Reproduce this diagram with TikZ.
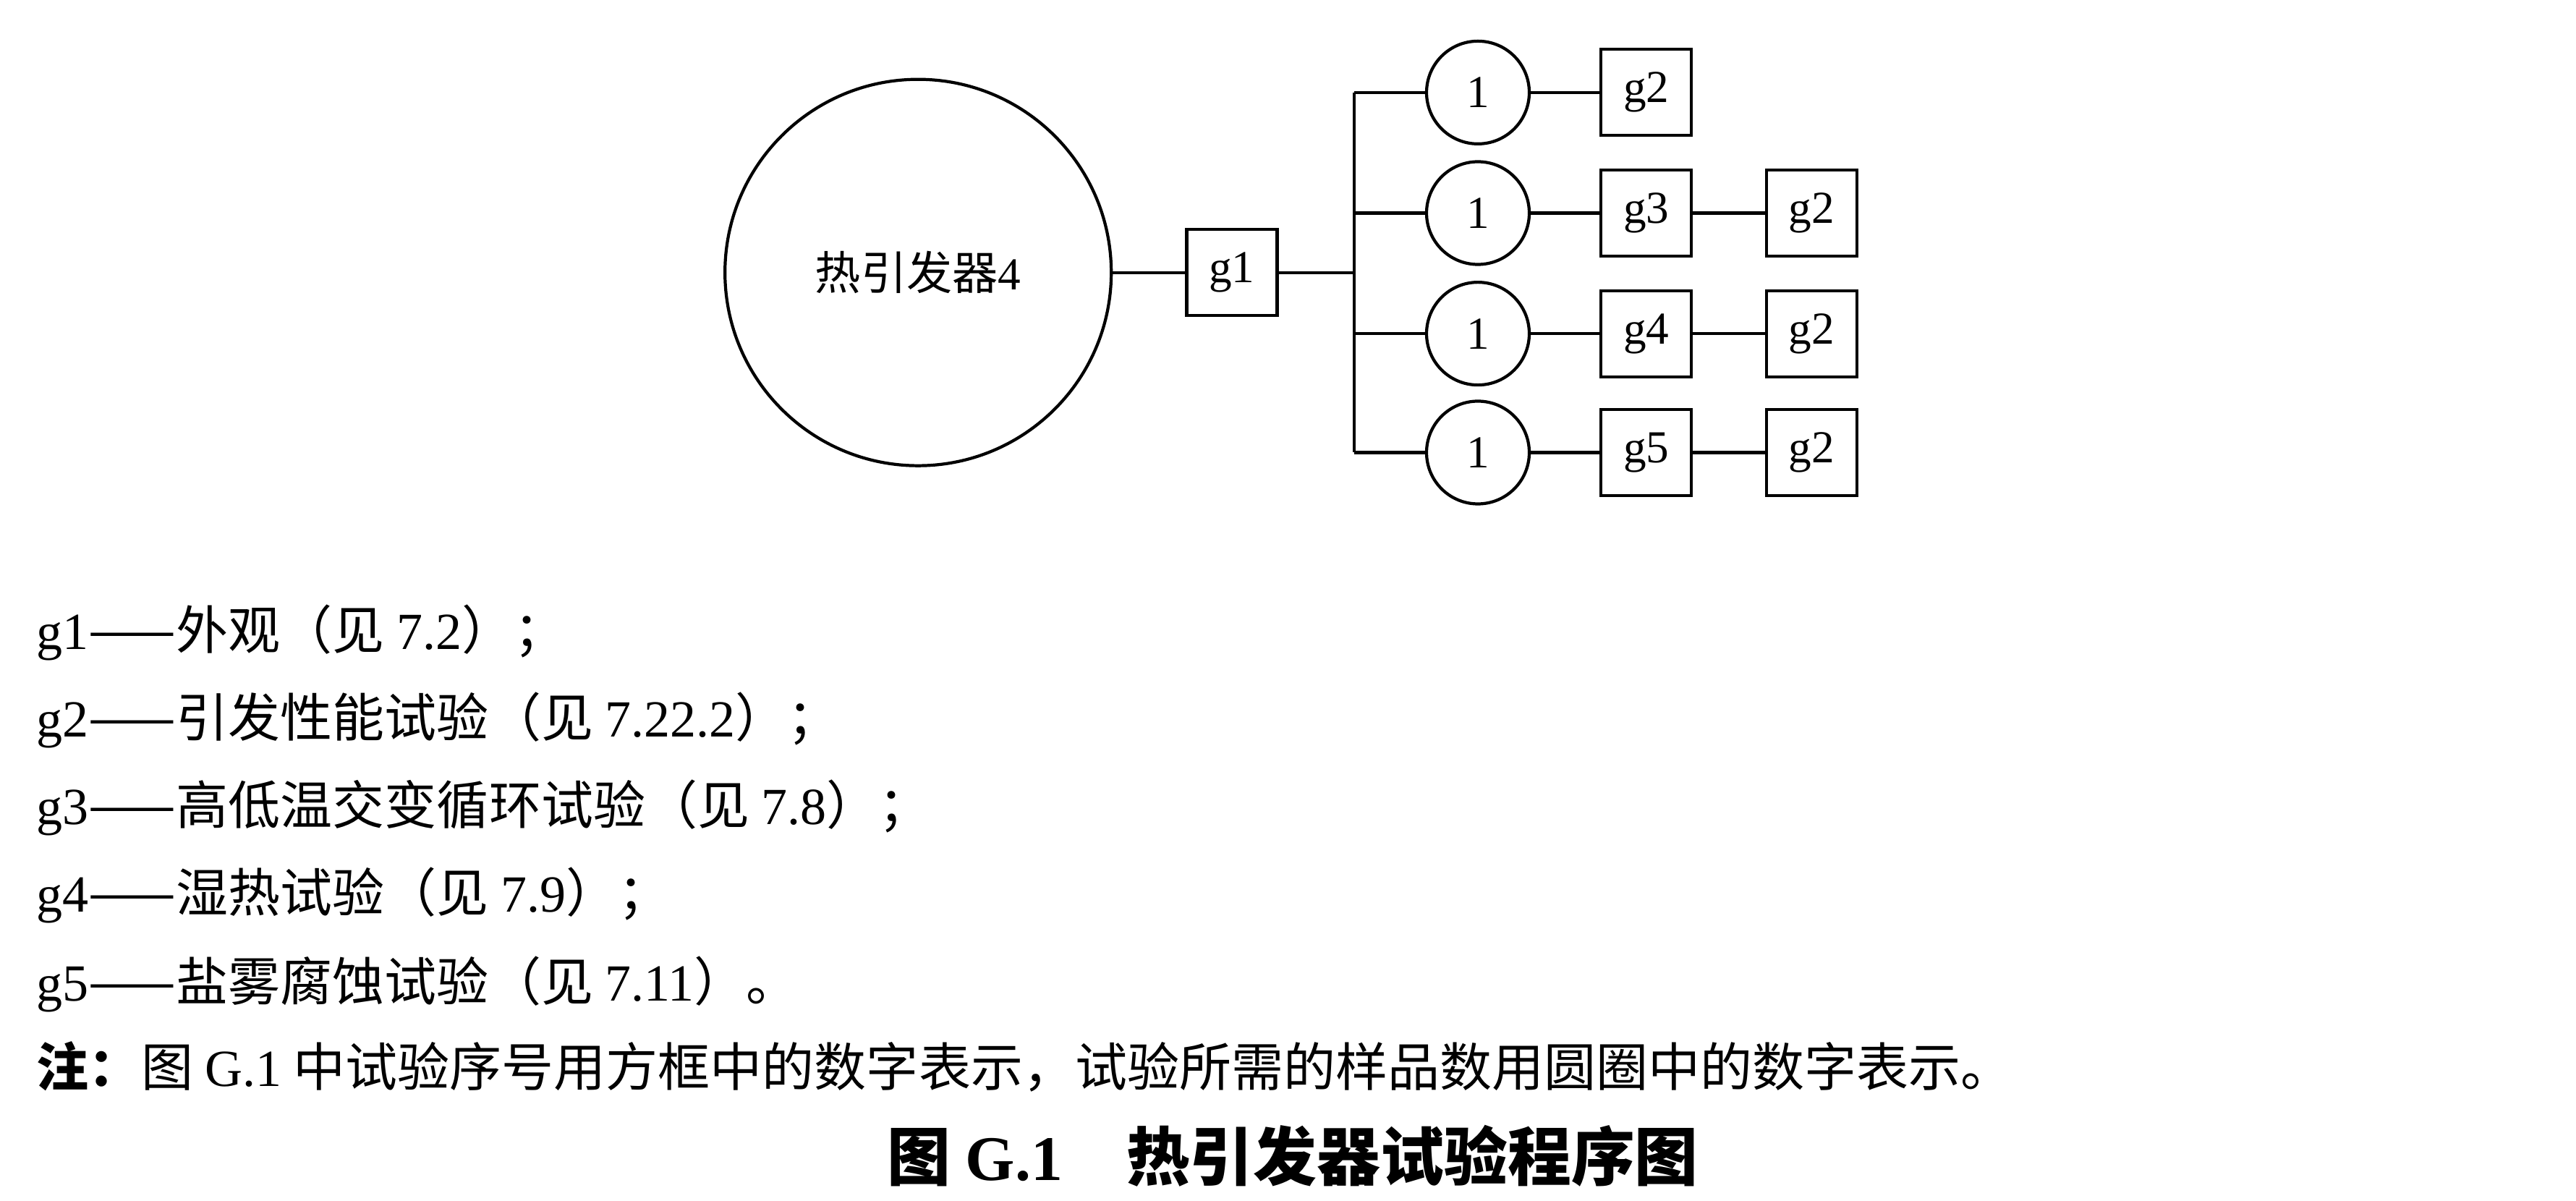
\documentclass[tikz,border=0pt]{standalone}
\usepackage{fontspec}
\setmainfont{Liberation Serif}
\newfontfamily\cjk{Noto Sans CJK SC}
\begin{document}
\begin{tikzpicture}[x=0.02283cm,y=-0.02283cm,
  box/.style={draw,line width=1.2pt,minimum width=1.25cm,minimum height=1.19cm,inner sep=0pt,font=\fontsize{18}{20}\selectfont},
  circ/.style={draw,circle,line width=1.2pt,minimum size=1.42cm,inner sep=0pt,font=\fontsize{18}{20}\selectfont},
  ln/.style={line width=1.2pt},
  leg/.style={anchor=west,inner sep=0pt,font=\fontsize{20.5}{24}\selectfont}]
\useasboundingbox (0,0) rectangle (1560,727);
\node[circ,minimum size=5.34cm] (big) at (556,165) {{\cjk 热引发器}4};
\node[box] (g1) at (746,165) {g1};
\coordinate (j) at (820,165);
\coordinate (t) at (820,56);
\coordinate (b) at (820,274);
\draw[ln] (big) -- (g1);
\draw[ln] (g1) -- (j);
\draw[ln] (t) -- (b);
\foreach \i/\y/\g in {1/56/g2,2/129/g3,3/202/g4,4/274/g5}{
  \coordinate (k\i) at (820,\y);
  \node[circ] (c\i) at (895,\y) {1};
  \node[box] (a\i) at (997,\y) {\g};
  \draw[ln] (k\i) -- (c\i);
  \draw[ln] (c\i) -- (a\i);
}
\foreach \i/\y in {2/129,3/202,4/274}{
  \node[box] (e\i) at (1097,\y) {g2};
  \draw[ln] (a\i) -- (e\i);
}
\node[leg] (l1) at (22,383) {g1{\cjk ——外观（见 }7.2{\cjk ）；}};
\node[leg] (l2) at (22,436) {g2{\cjk ——引发性能试验（见 }7.22.2{\cjk ）；}};
\node[leg] (l3) at (22,489) {g3{\cjk ——高低温交变循环试验（见 }7.8{\cjk ）；}};
\node[leg] (l4) at (22,542) {g4{\cjk ——湿热试验（见 }7.9{\cjk ）；}};
\node[leg] (l5) at (22,596) {g5{\cjk ——盐雾腐蚀试验（见 }7.11{\cjk ）。}};
\node[leg] (n) at (22,646) {{\cjk\bfseries 注：}{\cjk 图 }G.1{\cjk\ 中试验序号用方框中的数字表示，试验所需的样品数用圆圈中的数字表示。}};
\node[inner sep=0pt,font=\fontsize{25}{28}\selectfont\bfseries] (cap) at (783,700) {{\cjk 图 }G.1\quad{\cjk 热引发器试验程序图}};
\end{tikzpicture}
\end{document}
